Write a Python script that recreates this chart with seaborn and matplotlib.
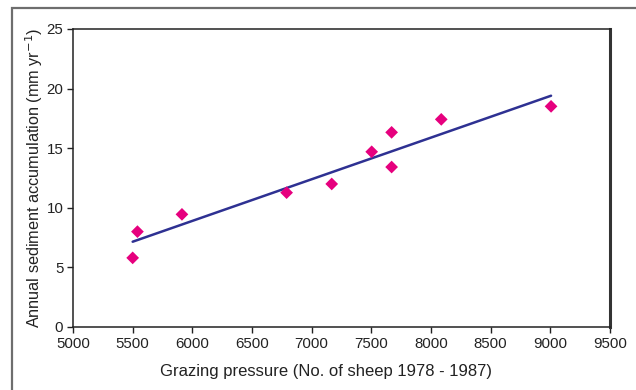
import matplotlib
matplotlib.use("Agg")
import matplotlib.pyplot as plt
import seaborn as sns
import pandas as pd
from matplotlib.patches import Rectangle

sheep = [5500, 5540, 5913, 6790, 7168, 7503, 7670, 7670, 8086, 9006]
sediment = [5.8, 8.0, 9.45, 11.27, 12.0, 14.7, 16.33, 13.42, 17.42, 18.51]
x_ticks = [5000, 5500, 6000, 6500, 7000, 7500, 8000, 8500, 9000, 9500]
y_ticks = [0, 5, 10, 15, 20, 25]

df = pd.DataFrame({"sheep": sheep, "sediment": sediment})

sns.set_theme(style="white")
plt.rcParams["font.family"] = ["Liberation Sans", "DejaVu Sans"]

fig = plt.figure(figsize=(6.36, 3.9), dpi=100)
ax = fig.add_axes([73 / 636, 63 / 390, 537 / 636, 298 / 390])

# outer chart border (extends beyond the image on right/bottom)
fig.patches.append(Rectangle((12 / 636, -0.1), 1.2, (390 - 8) / 390 + 0.1,
                             transform=fig.transFigure, fill=False,
                             edgecolor="#6e6e6e", lw=1.6, zorder=0))

sns.regplot(data=df, x="sheep", y="sediment", ax=ax, ci=None, truncate=True,
            marker="D",
            scatter_kws={"s": 42, "color": "#E6007E", "edgecolors": "none",
                         "alpha": 1.0, "zorder": 3},
            line_kws={"color": "#2E3192", "lw": 1.8, "zorder": 2})

ax.set_xlim(5000, 9500)
ax.set_ylim(0, 25)
ax.set_xticks(x_ticks)
ax.set_yticks(y_ticks)
ax.tick_params(axis="both", direction="out", length=4, width=1, colors="#222222",
               labelsize=10.8, pad=3, bottom=True, left=True)
for lab in ax.get_xticklabels() + ax.get_yticklabels():
    lab.set_color("#222222")

for side in ["left", "bottom", "top"]:
    ax.spines[side].set_color("#222222")
    ax.spines[side].set_linewidth(1.1)
ax.spines["right"].set_color("#333333")
ax.spines["right"].set_linewidth(2.2)

ax.set_xlabel("Grazing pressure (No. of sheep 1978 - 1987)", fontsize=12,
              color="#222222", labelpad=11)
ax.xaxis.set_label_coords(0.471, -0.125)
ax.set_ylabel("Annual sediment accumulation (mm yr$^{-1}$)", fontsize=11.7,
              color="#222222", labelpad=1)

fig.savefig("out.png", dpi=100)
